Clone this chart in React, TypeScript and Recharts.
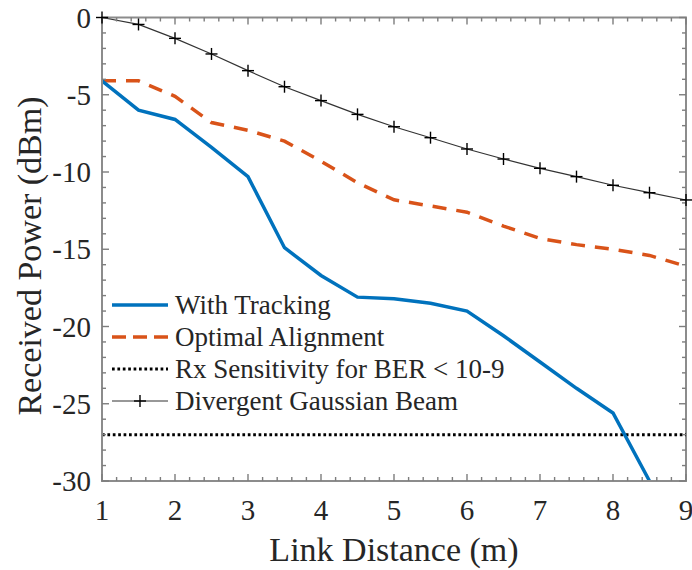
import React from 'react';
import { ComposedChart, Line, Scatter, XAxis, YAxis, ReferenceLine, ReferenceArea, Legend } from 'recharts';

// ---- data ----
const distance = [1, 1.5, 2, 2.5, 3, 3.5, 4, 4.5, 5, 5.5, 6, 6.5, 7, 7.5, 8, 8.5, 9];
const withTracking = [-4.1, -6.0, -6.6, -8.4, -10.3, -14.9, -16.7, -18.1, -18.2, -18.5, -19.0, -20.6, -22.3, -24.0, -25.6, -30.0, null];
const optimalAlignment = [-4.1, -4.1, -5.1, -6.8, -7.3, -8.0, -9.3, -10.7, -11.8, -12.2, -12.6, -13.5, -14.3, -14.7, -15.0, -15.4, -16.1];
const divergentBeam = [0, -0.45, -1.35, -2.36, -3.44, -4.48, -5.38, -6.27, -7.07, -7.78, -8.51, -9.16, -9.76, -10.3, -10.86, -11.34, -11.81];
const rxSensitivity = -27;

const xDomain = [1, 9];
const yDomain = [-30, 0];
const xMajorTicks = [1, 2, 3, 4, 5, 6, 7, 8, 9];
const yMajorTicks = [-30, -25, -20, -15, -10, -5, 0];
const xMinorStep = 0.2;
const yMinorStep = 1;

const seriesNames = {
  tracking: 'With Tracking',
  optimal: 'Optimal Alignment',
  rx: 'Rx Sensitivity for BER < 10-9',
  beam: 'Divergent Gaussian Beam',
};

const xLabel = 'Link Distance (m)';
const yLabel = 'Received Power (dBm)';

// ---- derived ----
const data = distance.map((d, i) => ({
  d,
  tracking: withTracking[i],
  optimal: optimalAlignment[i],
  beam: divergentBeam[i],
}));

const xAllTicks: number[] = [];
for (let i = 0; i <= Math.round((xDomain[1] - xDomain[0]) / xMinorStep); i++) xAllTicks.push(+(xDomain[0] + i * xMinorStep).toFixed(2));
const yAllTicks: number[] = [];
for (let i = 0; i <= Math.round((yDomain[1] - yDomain[0]) / yMinorStep); i++) yAllTicks.push(yDomain[0] + i * yMinorStep);

// ---- layout / styles ----
const W = 692;
const H = 570;
const M_TOP = 17.5;
const M_RIGHT = 6;
const Y_AXIS_W = 102;
const X_AXIS_H = 89;

const FONT = "'Liberation Serif', 'Times New Roman', Times, 'DejaVu Serif', serif";
const AXIS = '#8c8c8c';
const TICK = '#7d7d7d';
const TEXT = '#262626';
const BLUE = '#0072BD';
const ORANGE = '#D95319';
const MAJ = 7;
const MIN = 4;

const textStyle = (size: number) => ({ fontFamily: FONT, fontSize: size, fill: TEXT });

const isMajorX = (v: number) => xMajorTicks.some((t) => Math.abs(t - v) < 1e-6);
const isMajorY = (v: number) => yMajorTicks.some((t) => Math.abs(t - v) < 1e-6);

// tick-mark anchor points on the four sides of the box
const tickBottom = xAllTicks.map((t) => ({ d: t, v: yDomain[0], len: isMajorX(t) ? MAJ : MIN, dir: 'up' }));
const tickTop = xAllTicks.map((t) => ({ d: t, v: yDomain[1], len: isMajorX(t) ? MAJ : MIN, dir: 'down' }));
const tickLeft = yAllTicks.map((t) => ({ d: xDomain[0], v: t, len: isMajorY(t) ? MAJ : MIN, dir: 'right' }));
const tickRight = yAllTicks.map((t) => ({ d: xDomain[1], v: t, len: isMajorY(t) ? MAJ : MIN, dir: 'left' }));

const TickShape = (p: any) => {
  const { cx, cy, payload } = p;
  if (cx == null || cy == null || !payload) return <g />;
  const { len, dir } = payload;
  let x2 = cx;
  let y2 = cy;
  if (dir === 'up') y2 = cy - len;
  else if (dir === 'down') y2 = cy + len;
  else if (dir === 'right') x2 = cx + len;
  else x2 = cx - len;
  return <line x1={cx} y1={cy} x2={x2} y2={y2} stroke={TICK} strokeWidth={1.4} />;
};

const BottomTick = (p: any) => {
  const { x, y, payload } = p;
  const v = payload.value;
  if (!isMajorX(v)) return <g />;
  return (
    <text x={x} y={y + 39} textAnchor="middle" style={textStyle(29)}>
      {v}
    </text>
  );
};

const LeftTick = (p: any) => {
  const { x, y, payload } = p;
  const v = payload.value;
  if (!isMajorY(v)) return <g />;
  return (
    <text x={x - 11} y={y + 10} textAnchor="end" style={textStyle(29)}>
      {v}
    </text>
  );
};

const PlusDot = (p: any) => {
  const { cx, cy } = p;
  if (cx == null || cy == null) return <g />;
  return (
    <g>
      <line x1={cx - 6} x2={cx + 6} y1={cy} y2={cy} stroke="#000" strokeWidth={1.4} />
      <line x1={cx} x2={cx} y1={cy - 6} y2={cy + 6} stroke="#000" strokeWidth={1.4} />
    </g>
  );
};

const renderXLabel = (p: any) => {
  const vb = p.viewBox || {};
  return (
    <text x={vb.x + vb.width / 2} y={vb.y + 80} textAnchor="middle" style={textStyle(34)}>
      {xLabel}
    </text>
  );
};

const renderYLabel = () => {
  const cy = 256;
  const cx = 41;
  return (
    <text x={cx} y={cy} transform={`rotate(-90 ${cx} ${cy})`} textAnchor="middle" style={textStyle(34)}>
      {yLabel}
    </text>
  );
};

const LegendContent = () => {
  const rows = [29, 61, 93, 125];
  const x1 = 4;
  const x2 = 60;
  const tx = 67;
  const off = 9;
  return (
    <svg width={430} height={140} style={{ display: 'block' }}>
      <line x1={x1} x2={x2} y1={rows[0] - off} y2={rows[0] - off} stroke={BLUE} strokeWidth={3.5} />
      <line x1={x1} x2={x2} y1={rows[1] - off} y2={rows[1] - off} stroke={ORANGE} strokeWidth={3.5} strokeDasharray="14 7" />
      <line x1={x1} x2={x2} y1={rows[2] - off} y2={rows[2] - off} stroke="#000" strokeWidth={3} strokeDasharray="2.7 2.7" />
      <line x1={x1} x2={x2} y1={rows[3] - off} y2={rows[3] - off} stroke="#333" strokeWidth={1.2} />
      <line x1={26} x2={38} y1={rows[3] - off} y2={rows[3] - off} stroke="#000" strokeWidth={1.4} />
      <line x1={32} x2={32} y1={rows[3] - off - 6} y2={rows[3] - off + 6} stroke="#000" strokeWidth={1.4} />
      {[seriesNames.tracking, seriesNames.optimal, seriesNames.rx, seriesNames.beam].map((s, i) => (
        <text key={s} x={tx} y={rows[i]} style={textStyle(27)}>
          {s}
        </text>
      ))}
    </svg>
  );
};

export default function App() {
  return (
    <div style={{ position: 'absolute', left: 0, top: 0, width: W, height: H, background: '#fff' }}>
      <ComposedChart width={W} height={H} data={data} margin={{ top: M_TOP, right: M_RIGHT, left: 0, bottom: 0 }}>
        <XAxis
          dataKey="d"
          type="number"
          domain={xDomain}
          ticks={xMajorTicks}
          interval={0}
          tick={BottomTick}
          tickLine={false}
          tickSize={0}
          tickMargin={0}
          height={X_AXIS_H}
          axisLine={{ stroke: AXIS, strokeWidth: 2 }}
          label={renderXLabel}
        />
        <YAxis
          type="number"
          domain={yDomain}
          ticks={yMajorTicks}
          interval={0}
          tick={LeftTick}
          tickLine={false}
          tickSize={0}
          tickMargin={0}
          width={Y_AXIS_W}
          axisLine={{ stroke: AXIS, strokeWidth: 2 }}
          label={renderYLabel}
        />
        <ReferenceArea x1={xDomain[0]} x2={xDomain[1]} y1={yDomain[0]} y2={yDomain[1]} fill="none" stroke={AXIS} strokeWidth={2} ifOverflow="visible" />
        <Scatter data={tickBottom} dataKey="v" shape={TickShape} isAnimationActive={false} legendType="none" />
        <Scatter data={tickTop} dataKey="v" shape={TickShape} isAnimationActive={false} legendType="none" />
        <Scatter data={tickLeft} dataKey="v" shape={TickShape} isAnimationActive={false} legendType="none" />
        <Scatter data={tickRight} dataKey="v" shape={TickShape} isAnimationActive={false} legendType="none" />
        <ReferenceLine y={rxSensitivity} stroke="#000" strokeWidth={3} strokeDasharray="2.7 2.7" />
        <Line dataKey="beam" stroke="#333" strokeWidth={1.2} dot={<PlusDot />} isAnimationActive={false} type="linear" />
        <Line dataKey="optimal" stroke={ORANGE} strokeWidth={3.5} strokeDasharray="14 10" dot={false} isAnimationActive={false} type="linear" />
        <Line dataKey="tracking" stroke={BLUE} strokeWidth={3.5} dot={false} isAnimationActive={false} type="linear" connectNulls={false} />
        <Legend
          layout="vertical"
          align="center"
          verticalAlign="middle"
          wrapperStyle={{ position: 'absolute', left: 108, top: 285, width: 430, height: 140 }}
          content={<LegendContent />}
        />
      </ComposedChart>
    </div>
  );
}
